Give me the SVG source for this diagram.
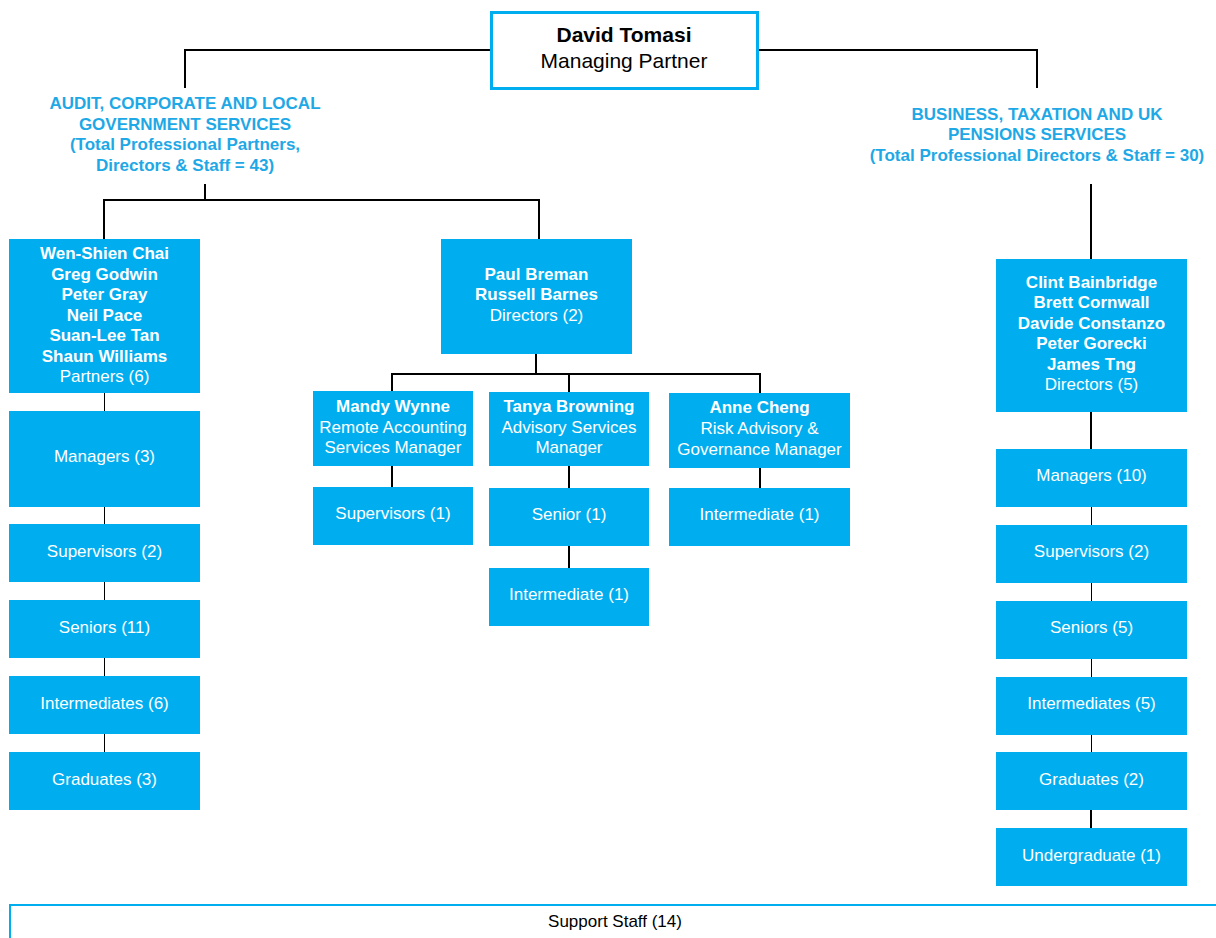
<svg xmlns="http://www.w3.org/2000/svg" width="1216" height="938" viewBox="0 0 1216 938">
<style>
.b{fill:#00aeef;}
.t{font-family:"Liberation Sans",Arial,sans-serif;font-size:17px;fill:#fff;text-anchor:middle;}
.bd{font-weight:bold;}
.h{font-family:"Liberation Sans",Arial,sans-serif;font-size:17px;font-weight:bold;fill:#1ea8e6;text-anchor:middle;}
.k{fill:none;stroke:#000;stroke-width:2;}
.k1{fill:none;stroke:#000;stroke-width:1;}
</style>
<rect width="1216" height="938" fill="#fff"/>
<g id="connectors">
<path class="k" d="M491 50H185V88M757 50H1037V88"/>
<path class="k" d="M205 184V200M104 239V200H539V239"/>
<path class="k" d="M536 354V374M392 391V374H760V393M569 374V392"/>
<path class="k1" d="M104.5 393V411M104.5 507V524M104.5 582V600M104.5 658V676M104.5 734V752"/>
<path class="k" d="M392 466V487M569 466V488M569 546V568M760 468V488"/>
<path class="k" d="M1091 184V259M1091 412V449M1091 810V828"/>
<path class="k1" d="M1091.5 507V525M1091.5 583V601M1091.5 659V677M1091.5 735V752"/>
</g>
<g id="top">
<rect x="491.5" y="12.5" width="266" height="76" fill="#fff" stroke="#00aeef" stroke-width="3"/>
<text x="624" y="42" font-family="Liberation Sans,Arial,sans-serif" font-size="21" font-weight="bold" text-anchor="middle" fill="#000">David Tomasi</text>
<text x="624" y="68" font-family="Liberation Sans,Arial,sans-serif" font-size="21" text-anchor="middle" fill="#000">Managing Partner</text>
</g>
<g id="hdr-left">
<text class="h" x="185" y="109">AUDIT, CORPORATE AND LOCAL</text>
<text class="h" x="185" y="130">GOVERNMENT SERVICES</text>
<text class="h" x="185" y="150">(Total Professional Partners,</text>
<text class="h" x="185" y="171">Directors &amp; Staff = 43)</text>
</g>
<g id="hdr-right">
<text class="h" x="1037" y="120">BUSINESS, TAXATION AND UK</text>
<text class="h" x="1037" y="140">PENSIONS SERVICES</text>
<text class="h" x="1037" y="161">(Total Professional Directors &amp; Staff = 30)</text>
</g>
<g id="partners">
<rect class="b" x="9" y="239" width="191" height="154"/>
<text class="t bd" x="104.5" y="259">Wen-Shien Chai</text>
<text class="t bd" x="104.5" y="279.5">Greg Godwin</text>
<text class="t bd" x="104.5" y="300">Peter Gray</text>
<text class="t bd" x="104.5" y="320.5">Neil Pace</text>
<text class="t bd" x="104.5" y="341">Suan-Lee Tan</text>
<text class="t bd" x="104.5" y="361.5">Shaun Williams</text>
<text class="t" x="104.5" y="382">Partners (6)</text>
</g>
<g id="l-managers"><rect class="b" x="9" y="411" width="191" height="96"/><text class="t" x="104.5" y="462">Managers (3)</text></g>
<g id="l-supervisors"><rect class="b" x="9" y="524" width="191" height="58"/><text class="t" x="104.5" y="557">Supervisors (2)</text></g>
<g id="l-seniors"><rect class="b" x="9" y="600" width="191" height="58"/><text class="t" x="104.5" y="633">Seniors (11)</text></g>
<g id="l-intermediates"><rect class="b" x="9" y="676" width="191" height="58"/><text class="t" x="104.5" y="709">Intermediates (6)</text></g>
<g id="l-graduates"><rect class="b" x="9" y="752" width="191" height="58"/><text class="t" x="104.5" y="785">Graduates (3)</text></g>
<g id="m-directors">
<rect class="b" x="441" y="239" width="191" height="115"/>
<text class="t bd" x="536.5" y="280">Paul Breman</text>
<text class="t bd" x="536.5" y="300">Russell Barnes</text>
<text class="t" x="536.5" y="321">Directors (2)</text>
</g>
<g id="mandy">
<rect class="b" x="313" y="391" width="160" height="75"/>
<text class="t bd" x="393" y="412">Mandy Wynne</text>
<text class="t" x="393" y="433">Remote Accounting</text>
<text class="t" x="393" y="453">Services Manager</text>
</g>
<g id="tanya">
<rect class="b" x="489" y="392" width="160" height="74"/>
<text class="t bd" x="569" y="412">Tanya Browning</text>
<text class="t" x="569" y="433">Advisory Services</text>
<text class="t" x="569" y="453">Manager</text>
</g>
<g id="anne">
<rect class="b" x="669" y="393" width="181" height="75"/>
<text class="t bd" x="759.5" y="413">Anne Cheng</text>
<text class="t" x="759.5" y="434">Risk Advisory &amp;</text>
<text class="t" x="759.5" y="455">Governance Manager</text>
</g>
<g id="m-supervisors"><rect class="b" x="313" y="487" width="160" height="58"/><text class="t" x="393" y="519">Supervisors (1)</text></g>
<g id="m-senior"><rect class="b" x="489" y="488" width="160" height="58"/><text class="t" x="569" y="520">Senior (1)</text></g>
<g id="m-intermediate1"><rect class="b" x="489" y="568" width="160" height="58"/><text class="t" x="569" y="600">Intermediate (1)</text></g>
<g id="m-intermediate2"><rect class="b" x="669" y="488" width="181" height="58"/><text class="t" x="759.5" y="520">Intermediate (1)</text></g>
<g id="r-directors">
<rect class="b" x="996" y="259" width="191" height="153"/>
<text class="t bd" x="1091.5" y="288">Clint Bainbridge</text>
<text class="t bd" x="1091.5" y="308">Brett Cornwall</text>
<text class="t bd" x="1091.5" y="329">Davide Constanzo</text>
<text class="t bd" x="1091.5" y="349">Peter Gorecki</text>
<text class="t bd" x="1091.5" y="370">James Tng</text>
<text class="t" x="1091.5" y="390">Directors (5)</text>
</g>
<g id="r-managers"><rect class="b" x="996" y="449" width="191" height="58"/><text class="t" x="1091.5" y="481">Managers (10)</text></g>
<g id="r-supervisors"><rect class="b" x="996" y="525" width="191" height="58"/><text class="t" x="1091.5" y="557">Supervisors (2)</text></g>
<g id="r-seniors"><rect class="b" x="996" y="601" width="191" height="58"/><text class="t" x="1091.5" y="633">Seniors (5)</text></g>
<g id="r-intermediates"><rect class="b" x="996" y="677" width="191" height="58"/><text class="t" x="1091.5" y="709">Intermediates (5)</text></g>
<g id="r-graduates"><rect class="b" x="996" y="752" width="191" height="58"/><text class="t" x="1091.5" y="785">Graduates (2)</text></g>
<g id="r-undergraduate"><rect class="b" x="996" y="828" width="191" height="58"/><text class="t" x="1091.5" y="861">Undergraduate (1)</text></g>
<g id="support">
<path d="M10 940V905H1218" fill="none" stroke="#00aeef" stroke-width="2"/>
<text x="615" y="927" font-family="Liberation Sans,Arial,sans-serif" font-size="17" text-anchor="middle" fill="#000">Support Staff (14)</text>
</g>
</svg>
